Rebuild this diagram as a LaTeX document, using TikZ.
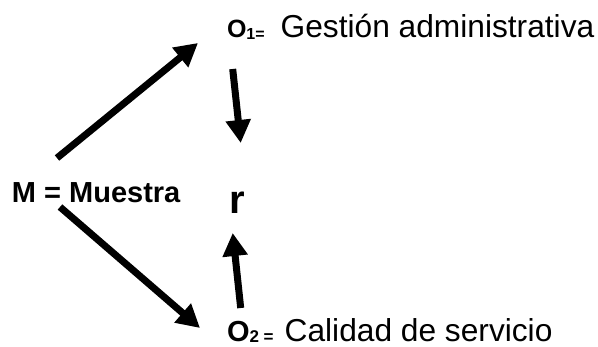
\documentclass[tikz,border=0pt]{standalone}
\usepackage{fontspec}
\setmainfont{Liberation Sans}
\usetikzlibrary{arrows.meta}
\tikzset{
  bigarrow/.style={line width=7pt,-{Triangle[length=23pt,width=24pt]}},
  lbl/.style={inner sep=0pt,outer sep=0pt,anchor=base west}
}
\begin{document}
\begin{tikzpicture}[x=1pt,y=-1pt]
\useasboundingbox (0,0) rectangle (598,347);
\node[lbl] (O1) at (227,38) {{\bfseries\fontsize{25}{25}\selectfont O}\raisebox{-2pt}{\bfseries\fontsize{16}{16}\selectfont 1=}\hspace{16pt}{\fontsize{31.7}{31.7}\selectfont Gestión administrativa}};
\node[lbl] (O2) at (227,341.5) {{\bfseries\fontsize{29}{29}\selectfont O}\raisebox{-1pt}{\bfseries\fontsize{17}{17}\selectfont 2 =}\hspace{11pt}{\fontsize{31.7}{31.7}\selectfont Calidad de servicio}};
\node[lbl] (M) at (12,203) {\bfseries\fontsize{29}{29}\selectfont M = Muestra};
\node[lbl] (r) at (229,214) {\bfseries\fontsize{40}{40}\selectfont r};
\coordinate (a1s) at (57,158);
\coordinate (a1e) at (198,43);
\coordinate (a2s) at (232.7,69);
\coordinate (a2e) at (240.7,143);
\coordinate (a3s) at (60,207);
\coordinate (a3e) at (200,328);
\coordinate (a4s) at (240.7,308);
\coordinate (a4e) at (232.7,233);
\draw[bigarrow] (a1s) -- (a1e);
\draw[bigarrow] (a2s) -- (a2e);
\draw[bigarrow] (a3s) -- (a3e);
\draw[bigarrow] (a4s) -- (a4e);
\end{tikzpicture}
\end{document}
